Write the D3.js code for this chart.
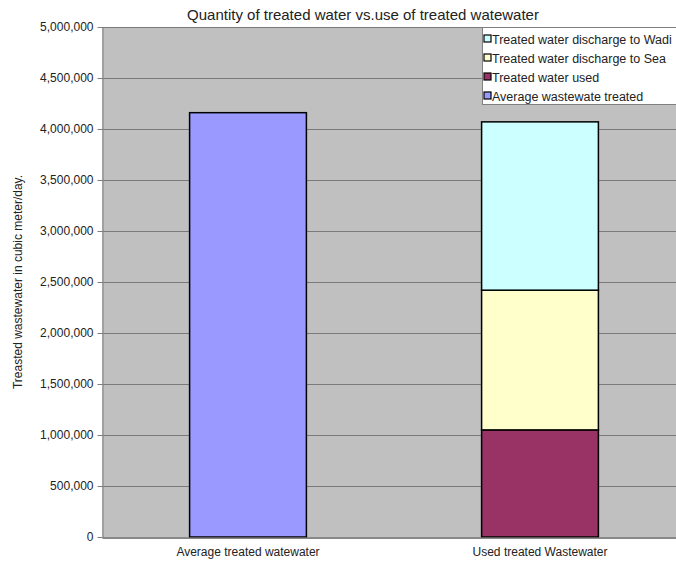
<!DOCTYPE html>
<html>
<head>
<meta charset="utf-8">
<script src="https://cdn.jsdelivr.net/npm/d3@7"></script>
<style>
  body { margin: 0; background: #fff; }
  svg { font-family: "Liberation Sans", Arial, sans-serif; }
</style>
</head>
<body>
<div id="chart"></div>
<script>
// categories on the x axis
const categories = ['Average treated watewater', 'Used treated Wastewater'];

// series, bottom to top of the stack
const seriesNames = ['Average wastewate treated', 'Treated water used', 'Treated water discharge to Sea', 'Treated water discharge to Wadi'];
const averageTreated = [4160000, 0];
const treatedUsed = [0, 1050000];
const dischargeSea = [0, 1370000];
const dischargeWadi = [0, 1650000];

const yTicks = [0, 500000, 1000000, 1500000, 2000000, 2500000, 3000000, 3500000, 4000000, 4500000, 5000000];

const colors = ['#9999ff', '#993366', '#ffffcc', '#ccffff'];

// legend lists them top to bottom
const legendOrder = [3, 2, 1, 0];

const width = 676, height = 565;
const margin = {top: 27, left: 102, bottom: 28};
const plotRight = 686;  // plot area runs past the window edge

const svg = d3.select('#chart').append('svg')
    .attr('width', width)
    .attr('height', height);

// build rows for the stack
const rows = categories.map((c, i) => ({
    cat: c,
    s0: averageTreated[i],
    s1: treatedUsed[i],
    s2: dischargeSea[i],
    s3: dischargeWadi[i]
}));
const stacked = d3.stack().keys(['s0', 's1', 's2', 's3'])(rows);

const x = d3.scaleBand()
    .domain(categories)
    .range([margin.left, plotRight])
    .paddingInner(0.6)
    .paddingOuter(0.3);

const y = d3.scaleLinear()
    .domain([0, 5000000])
    .range([height - margin.bottom, margin.top]);

// plot background
svg.append('rect')
    .attr('x', margin.left)
    .attr('y', y(5000000))
    .attr('width', plotRight - margin.left)
    .attr('height', y(0) - y(5000000))
    .attr('fill', '#c0c0c0');

// gridlines
svg.append('g')
    .selectAll('line')
    .data(yTicks.filter(d => d > 0))
    .join('line')
    .attr('x1', margin.left)
    .attr('x2', plotRight)
    .attr('y1', d => Math.round(y(d)) + 0.5)
    .attr('y2', d => Math.round(y(d)) + 0.5)
    .attr('stroke', '#7a7a7a')
    .attr('stroke-width', 1);

// bars
svg.append('g')
    .selectAll('g')
    .data(stacked)
    .join('g')
    .attr('fill', (d, i) => colors[i])
    .selectAll('rect')
    .data(d => d.filter(p => p[1] - p[0] > 0))
    .join('rect')
    .attr('x', d => x(d.data.cat))
    .attr('y', d => y(d[1]))
    .attr('width', x.bandwidth())
    .attr('height', d => y(d[0]) - y(d[1]))
    .attr('stroke', '#000')
    .attr('stroke-width', 1.5);

// y axis
const yAxis = svg.append('g')
    .attr('transform', `translate(${margin.left + 0.5},0)`)
    .call(d3.axisLeft(y).tickValues(yTicks).tickSize(5).tickSizeOuter(0).tickFormat(d3.format(',')));
yAxis.select('.domain').attr('stroke', '#808080');
yAxis.selectAll('.tick line').attr('stroke', '#808080');
yAxis.selectAll('text')
    .attr('font-size', 12)
    .attr('fill', '#222')
    .attr('x', -9)
    .style('font-family', '"Liberation Sans", Arial, sans-serif');

// x axis
const xAxis = svg.append('g')
    .attr('transform', `translate(0,${y(0) + 0.5})`)
    .call(d3.axisBottom(x).tickSize(0).tickSizeOuter(0));
xAxis.select('.domain').attr('stroke', '#606060').attr('stroke-width', 1.5);
xAxis.selectAll('text')
    .attr('font-size', 12)
    .attr('fill', '#222')
    .attr('dy', '1.3em')
    .style('font-family', '"Liberation Sans", Arial, sans-serif');

// title
svg.append('text')
    .attr('x', 363)
    .attr('y', 20)
    .attr('text-anchor', 'middle')
    .attr('font-size', 15)
    .attr('fill', '#222')
    .text('Quantity of treated water vs.use of treated watewater');

// y axis label
svg.append('text')
    .attr('transform', `translate(22,${(y(0) + y(5000000)) / 2}) rotate(-90)`)
    .attr('text-anchor', 'middle')
    .attr('font-size', 12)
    .attr('fill', '#222')
    .text('Treasted wastewater in cubic meter/day.');

// legend
const legend = svg.append('g')
    .attr('transform', 'translate(482,27)');

legend.append('rect')
    .attr('x', 0.5)
    .attr('y', 0.5)
    .attr('width', 220)
    .attr('height', 77)
    .attr('fill', '#fff')
    .attr('stroke', '#808080');

const items = legend.selectAll('g.item')
    .data(legendOrder)
    .join('g')
    .attr('class', 'item')
    .attr('transform', (d, i) => `translate(0,${12 + i * 19})`);

items.append('rect')
    .attr('x', 2)
    .attr('y', -4)
    .attr('width', 7)
    .attr('height', 7)
    .attr('fill', d => colors[d])
    .attr('stroke', '#000')
    .attr('stroke-width', 1.2);

items.append('text')
    .attr('x', 10)
    .attr('y', 4.5)
    .attr('font-size', 12.5)
    .attr('fill', '#222')
    .text(d => seriesNames[d]);
</script>
</body>
</html>
